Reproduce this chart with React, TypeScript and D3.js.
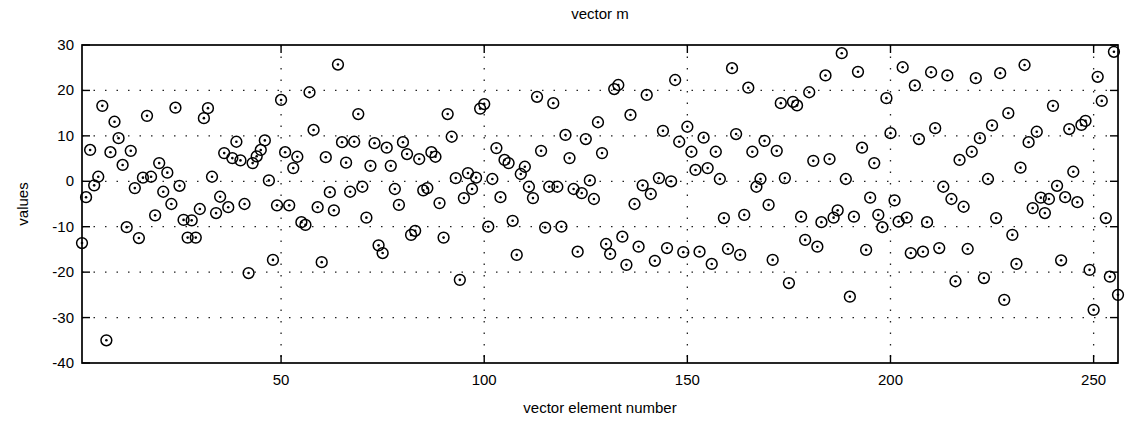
import React from 'react';
import * as d3 from 'd3';

const values: number[] = [
  -13.6, -3.5, 6.9, -0.9, 1.0, 16.6, -35, 6.4, 13.1, 9.5,
  3.6, -10.1, 6.7, -1.5, -12.5, 0.8, 14.4, 1.0, -7.5, 4.0,
  -2.3, 1.9, -5.0, 16.2, -1.0, -8.5, -12.4, -8.6, -12.4, -6.1,
  13.9, 16.1, 1.0, -7.0, -3.4, 6.2, -5.7, 5.1, 8.7, 4.6,
  -5.0, -20.2, 4.0, 5.5, 6.9, 9.0, 0.2, -17.3, -5.3, 17.9,
  6.4, -5.3, 2.9, 5.4, -9.0, -9.6, 19.6, 11.3, -5.7, -17.8,
  5.3, -2.4, -6.4, 25.7, 8.6, 4.1, -2.3, 8.7, 14.8, -1.2,
  -8.0, 3.4, 8.4, -14.1, -15.8, 7.4, 3.4, -1.7, -5.2, 8.6,
  6.0, -11.8, -10.9, 4.9, -2.0, -1.5, 6.4, 5.4, -4.8, -12.4,
  14.8, 9.8, 0.7, -21.7, -3.7, 1.8, -1.7, 0.8, 16.0, 17.0,
  -10.0, 0.5, 7.3, -3.5, 4.7, 4.0, -8.7, -16.2, 1.6, 3.2,
  -1.2, -3.7, 18.6, 6.7, -10.2, -1.2, 17.2, -1.2, -10.0, 10.2,
  5.1, -1.7, -15.5, -2.6, 9.3, 0.2, -3.9, 13.0, 6.2, -13.8,
  -16.0, 20.3, 21.2, -12.2, -18.4, 14.6, -5.0, -14.4, -0.9, 19.0,
  -2.8, -17.5, 0.7, 11.1, -14.7, 0.0, 22.3, 8.7, -15.6, 12.0,
  6.5, 2.5, -15.5, 9.6, 2.9, -18.2, 6.5, 0.5, -8.1, -14.9,
  24.9, 10.4, -16.2, -7.4, 20.6, 6.5, -1.2, 0.5, 8.9, -5.2,
  -17.3, 6.7, 17.2, 0.7, -22.4, 17.5, 16.7, -7.8, -12.9, 19.6,
  4.5, -14.4, -9.0, 23.3, 4.9, -8.0, -6.4, 28.2, 0.5, -25.4,
  -7.8, 24.1, 7.4, -15.1, -3.6, 4.0, -7.4, -10.1, 18.3, 10.6,
  -4.2, -8.9, 25.1, -8.0, -15.8, 21.1, 9.3, -15.5, -9.0, 24.0,
  11.7, -14.7, -1.2, 23.3, -3.9, -22.0, 4.7, -5.6, -14.9, 6.5,
  22.7, 9.5, -21.3, 0.5, 12.3, -8.1, 23.8, -26.1, 15.0, -11.8,
  -18.2, 3.0, 25.6, 8.6, -5.9, 10.9, -3.6, -7.0, -3.9, 16.6,
  -1.0, -17.4, -3.5, 11.5, 2.1, -4.6, 12.4, 13.3, -19.5, -28.3,
  23.0, 17.7, -8.1, -21.0, 28.5, -25.0,
];

const xTicks: number[] = [50, 100, 150, 200, 250];
const yTicks: number[] = [-40, -30, -20, -10, 0, 10, 20, 30];
const titleText = 'vector m';
const xLabelText = 'vector element number';
const yLabelText = 'values';

export default function App() {
  const W = 1139;
  const H = 421;
  const left = 82, right = 1118, top = 45, bottom = 363;
  const x = d3.scaleLinear().domain([1, values.length]).range([left, right]);
  const y = d3.scaleLinear().domain([-40, 30]).range([bottom, top]);
  const font = '"Liberation Sans", Arial, Helvetica, sans-serif';
  const tickLen = 8;

  return (
    <svg
      width={W}
      height={H}
      style={{ position: 'absolute', left: 0, top: 0, background: '#fff' }}
      fontFamily={font}
    >
      <rect x={0} y={0} width={W} height={H} fill="#fff" />
      {xTicks.map((t) => (
        <line key={'gx' + t} x1={x(t)} x2={x(t)} y1={top} y2={bottom}
          stroke="#222" strokeWidth={1.3} strokeDasharray="1.5,10" />
      ))}
      {yTicks.filter((t) => t > -40 && t < 30).map((t) => (
        <line key={'gy' + t} x1={left} x2={right} y1={y(t)} y2={y(t)}
          stroke="#222" strokeWidth={1.3} strokeDasharray="1.5,10" />
      ))}
      <rect x={left} y={top} width={right - left} height={bottom - top}
        fill="none" stroke="#000" strokeWidth={1.7} />
      {xTicks.map((t) => (
        <g key={'tx' + t}>
          <line x1={x(t)} x2={x(t)} y1={bottom} y2={bottom - tickLen} stroke="#000" strokeWidth={1.4} />
          <line x1={x(t)} x2={x(t)} y1={top} y2={top + tickLen} stroke="#000" strokeWidth={1.4} />
          <text x={x(t)} y={bottom + 22} textAnchor="middle" fontSize={15} fill="#000">{t}</text>
        </g>
      ))}
      {yTicks.map((t) => (
        <g key={'ty' + t}>
          <line x1={left} x2={left + tickLen} y1={y(t)} y2={y(t)} stroke="#000" strokeWidth={1.4} />
          <line x1={right} x2={right - tickLen} y1={y(t)} y2={y(t)} stroke="#000" strokeWidth={1.4} />
          <text x={left - 8} y={y(t) + 5} textAnchor="end" fontSize={15} fill="#000">{t}</text>
        </g>
      ))}
      {values.map((v, i) => (
        <g key={'p' + i}>
          <circle cx={x(i + 1)} cy={y(v)} r={5.4} fill="none" stroke="#000" strokeWidth={1.5} />
          <circle cx={x(i + 1)} cy={y(v)} r={1.3} fill="#000" />
        </g>
      ))}
      <text x={(left + right) / 2} y={19} textAnchor="middle" fontSize={15} fill="#000">{titleText}</text>
      <text x={(left + right) / 2} y={413} textAnchor="middle" fontSize={15} fill="#000">{xLabelText}</text>
      <text transform={`translate(28,${(top + bottom) / 2}) rotate(-90)`} textAnchor="middle" fontSize={15} fill="#000">{yLabelText}</text>
    </svg>
  );
}
